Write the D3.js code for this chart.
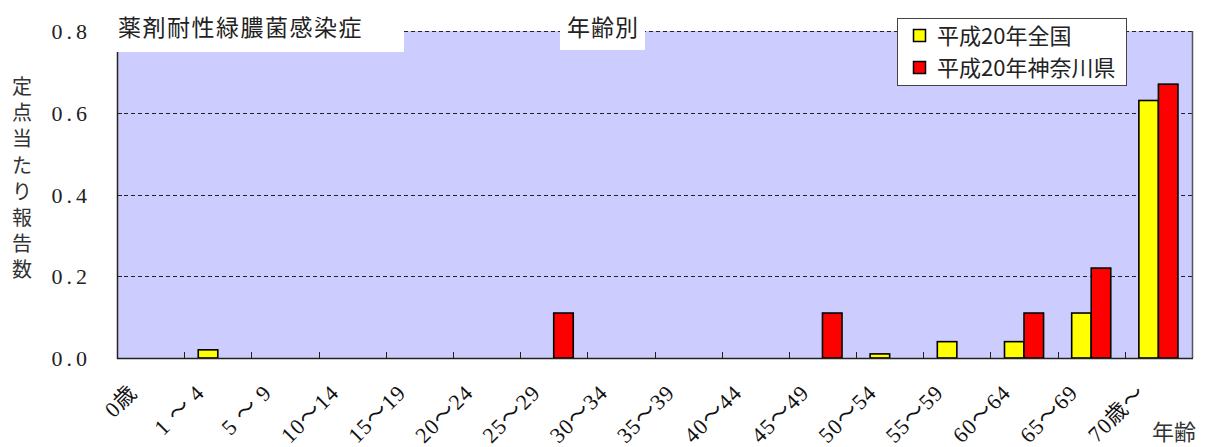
<!DOCTYPE html>
<html lang="ja">
<head>
<meta charset="utf-8">
<script src="https://cdn.jsdelivr.net/npm/d3@7"></script>
<style>
  html, body { margin: 0; padding: 0; background: #fff; }
  svg { display: block; }
  .num { font-family: "Liberation Serif", "DejaVu Serif", "Noto Sans CJK JP", serif; }
  .jp { font-family: "Noto Sans CJK JP", "Noto Sans", sans-serif; }
</style>
</head>
<body>
<svg id="chart" width="1206" height="447"></svg>
<script>
// 年齢群別の定点当たり報告数（薬剤耐性緑膿菌感染症）
const ageGroups = ["0歳", "1 ～ 4", "5 ～ 9", "10～14", "15～19", "20～24", "25～29", "30～34",
                   "35～39", "40～44", "45～49", "50～54", "55～59", "60～64", "65～69", "70歳～"];
const seriesNames = ["平成20年全国", "平成20年神奈川県"];
const nationalValues = [0, 0.02, 0, 0, 0, 0, 0, 0, 0, 0, 0, 0.01, 0.04, 0.04, 0.11, 0.63];
const kanagawaValues = [0, 0, 0, 0, 0, 0, 0.11, 0, 0, 0, 0.11, 0, 0, 0.11, 0.22, 0.67];
const yTickValues = [0, 0.2, 0.4, 0.6, 0.8];
const seriesColors = ["#FFFF00", "#FF0000"];
const yAxisTitle = "定点当たり報告数";
const chartTitle = "薬剤耐性緑膿菌感染症";
const subTitle = "年齢別";
const xAxisTitle = "年齢";

const svg = d3.select("#chart");
const plot = { left: 117, right: 1192, top: 31, bottom: 358 };

const x = d3.scaleBand().domain(ageGroups).range([plot.left, plot.right]).padding(0);
const xSub = d3.scaleBand().domain(seriesNames).range([0, x.bandwidth()]).paddingOuter(0.72).paddingInner(0);
const y = d3.scaleLinear().domain([0, 0.8]).range([plot.bottom, plot.top]);

// plot area background
svg.append("rect")
  .attr("x", plot.left).attr("y", plot.top)
  .attr("width", plot.right - plot.left).attr("height", plot.bottom - plot.top)
  .attr("fill", "#CCCCFF");

// dashed horizontal gridlines
svg.append("g").selectAll("line")
  .data(yTickValues.filter(v => v > 0))
  .join("line")
  .attr("x1", plot.left).attr("x2", plot.right)
  .attr("y1", d => Math.round(y(d)) + 0.5).attr("y2", d => Math.round(y(d)) + 0.5)
  .attr("stroke", "#222").attr("stroke-width", 1)
  .attr("stroke-dasharray", "4,3");

// right border
svg.append("line")
  .attr("x1", plot.right + 0.5).attr("x2", plot.right + 0.5)
  .attr("y1", plot.top).attr("y2", plot.bottom)
  .attr("stroke", "#555").attr("stroke-width", 1.5);

// bars
const rows = ageGroups.map((g, i) => ({ group: g, values: [nationalValues[i], kanagawaValues[i]] }));
const groups = svg.append("g").selectAll("g")
  .data(rows)
  .join("g")
  .attr("transform", d => `translate(${x(d.group)},0)`);
groups.selectAll("rect")
  .data(d => d.values.map((v, k) => ({ name: seriesNames[k], value: v, color: seriesColors[k] })).filter(e => e.value > 0))
  .join("rect")
  .attr("x", d => xSub(d.name))
  .attr("width", xSub.bandwidth())
  .attr("y", d => y(d.value))
  .attr("height", d => y(0) - y(d.value))
  .attr("fill", d => d.color)
  .attr("stroke", "#000").attr("stroke-width", 1.6);

// x axis with inward ticks at category boundaries
const xAxis = svg.append("g");
xAxis.append("line")
  .attr("x1", plot.left).attr("x2", plot.right + 1)
  .attr("y1", plot.bottom + 0.5).attr("y2", plot.bottom + 0.5)
  .attr("stroke", "#222").attr("stroke-width", 1.5);
xAxis.selectAll("line.tick")
  .data(ageGroups.slice(1))
  .join("line").attr("class", "tick")
  .attr("x1", d => Math.round(x(d)) + 0.5).attr("x2", d => Math.round(x(d)) + 0.5)
  .attr("y1", plot.bottom - 6).attr("y2", plot.bottom)
  .attr("stroke", "#222").attr("stroke-width", 1);
xAxis.selectAll("text")
  .data(ageGroups)
  .join("text")
  .attr("class", "num")
  .attr("transform", d => `translate(${x(d) + x.bandwidth() / 2 - 12},${plot.bottom + 36}) rotate(-45)`)
  .attr("text-anchor", "end")
  .style("font-size", "22px")
  .style("letter-spacing", "1px")
  .attr("fill", "#111")
  .text(d => d);

// y axis
const yAxis = svg.append("g");
yAxis.append("line")
  .attr("x1", plot.left + 0.5).attr("x2", plot.left + 0.5)
  .attr("y1", plot.top).attr("y2", plot.bottom + 1)
  .attr("stroke", "#222").attr("stroke-width", 1.5);
yAxis.selectAll("line.tick")
  .data(yTickValues.filter(v => v > 0))
  .join("line").attr("class", "tick")
  .attr("x1", plot.left).attr("x2", plot.left + 5)
  .attr("y1", d => Math.round(y(d)) + 0.5).attr("y2", d => Math.round(y(d)) + 0.5)
  .attr("stroke", "#222").attr("stroke-width", 1);
yAxis.selectAll("text")
  .data(yTickValues)
  .join("text")
  .attr("class", "num")
  .attr("x", 91)
  .attr("y", d => y(d) + 8)
  .attr("text-anchor", "end")
  .style("font-size", "22px")
  .style("letter-spacing", "4px")
  .attr("fill", "#222")
  .text(d3.format(".1f"));

// vertical y-axis title
svg.append("text")
  .attr("class", "jp")
  .style("font-size", "20px")
  .attr("fill", "#333")
  .attr("text-anchor", "middle")
  .selectAll("tspan")
  .data(Array.from(yAxisTitle))
  .join("tspan")
  .attr("x", 22)
  .attr("y", (d, i) => 94 + i * 26.2)
  .text(d => d);

// title block
svg.append("rect").attr("x", 105).attr("y", 0).attr("width", 299).attr("height", 52).attr("fill", "#fff");
svg.append("text")
  .attr("class", "jp")
  .attr("x", 118).attr("y", 36)
  .style("font-size", "23px").style("letter-spacing", "1.5px")
  .attr("fill", "#222")
  .text(chartTitle);

svg.append("rect").attr("x", 560).attr("y", 12).attr("width", 85).attr("height", 38).attr("fill", "#fff");
svg.append("text")
  .attr("class", "jp")
  .attr("x", 603).attr("y", 36)
  .attr("text-anchor", "middle")
  .style("font-size", "23px").style("letter-spacing", "1px")
  .attr("fill", "#222")
  .text(subTitle);

// legend
const legend = svg.append("g");
legend.append("rect")
  .attr("x", 897.5).attr("y", 18.5).attr("width", 229).attr("height", 67)
  .attr("fill", "#fff").attr("stroke", "#444").attr("stroke-width", 1);
const items = legend.selectAll("g.item")
  .data(seriesNames)
  .join("g").attr("class", "item")
  .attr("transform", (d, i) => `translate(0,${i * 32})`);
items.append("rect")
  .attr("x", 913.5).attr("y", 29.5).attr("width", 12).attr("height", 12)
  .attr("fill", (d, i) => seriesColors[i])
  .attr("stroke", "#000").attr("stroke-width", 1.5);
items.append("text")
  .attr("class", "jp")
  .attr("x", 937).attr("y", 44)
  .style("font-size", "22px")
  .attr("fill", "#222")
  .text(d => d);

// x-axis title
svg.append("text")
  .attr("class", "jp")
  .attr("x", 1152).attr("y", 440)
  .style("font-size", "22px")
  .attr("fill", "#333")
  .text(xAxisTitle);
</script>
</body>
</html>
